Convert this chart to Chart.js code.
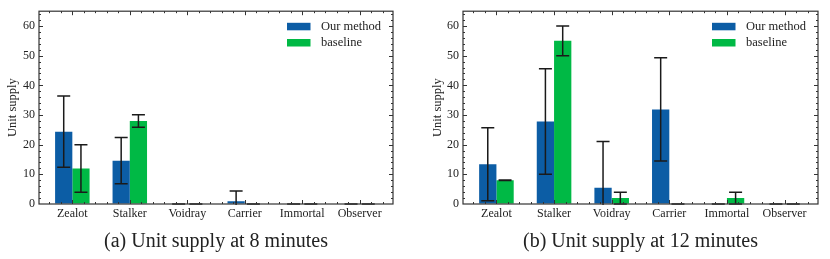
<!DOCTYPE html>
<html>
<head>
<meta charset="utf-8">
<script src="https://cdn.jsdelivr.net/npm/chart.js@4.4.1/dist/chart.umd.min.js"></script>
<style>
  body { margin: 0; background: #fff; }
  #wrap { position: relative; width: 830px; height: 259px; }
  canvas { position: absolute; top: 0; }
  .cap { position: absolute; top: 228px; font: 20px "Liberation Serif", serif; color: #222; text-align: center; line-height: 24px; white-space: nowrap; }
</style>
</head>
<body>
<div id="wrap">
  <canvas id="c8" width="415" height="259" style="left:0"></canvas>
  <canvas id="c12" width="415" height="259" style="left:415px"></canvas>
  <div class="cap" style="left:39px;width:354px">(a) Unit supply at 8 minutes</div>
  <div class="cap" style="left:463px;width:355px">(b) Unit supply at 12 minutes</div>
</div>
<script>
const units = ["Zealot", "Stalker", "Voidray", "Carrier", "Immortal", "Observer"];
const seriesNames = ["Our method", "baseline"];
const colors = ["#0C5DA5", "#00B945"];

// 8 minutes
const ours8 = [24.4, 14.6, 0, 0.9, 0, 0];
const ours8Err = [12, 7.8, 0, 3.5, 0, 0];
const base8 = [12, 28, 0, 0, 0, 0];
const base8Err = [8, 2.1, 0, 0, 0, 0];

// 12 minutes
const ours12 = [13.4, 27.8, 5.5, 31.9, 0, 0];
const ours12Err = [12.3, 17.8, 15.6, 17.4, 0, 0];
const base12 = [8, 55, 2, 0, 2, 0];
const base12Err = [0.1, 5, 2, 0, 2, 0];

const yTicks = [0, 10, 20, 30, 40, 50, 60];

Chart.defaults.font.family = '"Liberation Serif", serif';
Chart.defaults.color = '#222';

// error bars, drawn from each dataset's "errors" array
const errorBars = {
  id: 'errorBars',
  afterDatasetsDraw(chart) {
    const {ctx, chartArea: a, scales: {y}} = chart;
    ctx.save();
    ctx.beginPath();
    ctx.rect(a.left, a.top, a.width, a.height + 1);
    ctx.clip();
    ctx.strokeStyle = '#1a1a1a';
    ctx.lineWidth = 1.5;
    chart.data.datasets.forEach((ds, i) => {
      const meta = chart.getDatasetMeta(i);
      meta.data.forEach((bar, j) => {
        const v = ds.data[j].y, e = ds.errors[j];
        const top = y.getPixelForValue(v + e);
        const bot = y.getPixelForValue(v - e);
        ctx.beginPath();
        ctx.moveTo(bar.x, top); ctx.lineTo(bar.x, bot);
        ctx.moveTo(bar.x - 6.5, top); ctx.lineTo(bar.x + 6.5, top);
        ctx.moveTo(bar.x - 6.5, bot); ctx.lineTo(bar.x + 6.5, bot);
        ctx.stroke();
      });
    });
    ctx.restore();
  }
};

// box with inward ticks on all four sides + legend inside the plot
const frame = {
  id: 'frame',
  afterDraw(chart) {
    const {ctx, chartArea: a, scales: {x, y}} = chart;
    ctx.save();
    ctx.strokeStyle = '#333';
    ctx.lineWidth = 1.2;
    ctx.strokeRect(a.left, a.top, a.width, a.height);
    ctx.lineWidth = 1;
    ctx.beginPath();
    for (let k = -2; k <= 27; k++) {
      const v = k / 5;
      const px = Math.round(x.getPixelForValue(v)) + 0.5;
      const len = k % 5 === 0 ? 4 : 2;
      ctx.moveTo(px, a.bottom); ctx.lineTo(px, a.bottom - len);
      ctx.moveTo(px, a.top); ctx.lineTo(px, a.top + len);
    }
    for (let v = 2; v <= 64; v += 2) {
      const py = Math.round(y.getPixelForValue(v)) + 0.5;
      const len = v % 10 === 0 ? 4 : 2;
      ctx.moveTo(a.left, py); ctx.lineTo(a.left + len, py);
      ctx.moveTo(a.right, py); ctx.lineTo(a.right - len, py);
    }
    ctx.stroke();

    // legend
    ctx.font = '12.5px "Liberation Serif", serif';
    ctx.textBaseline = 'middle';
    chart.data.datasets.forEach((ds, i) => {
      const yc = a.top + 15.3 + i * 16.2;
      ctx.fillStyle = ds.backgroundColor;
      ctx.fillRect(a.right - 106, yc - 3.7, 23.5, 7.5);
      ctx.fillStyle = '#222';
      ctx.fillText(ds.label, a.right - 72, yc);
    });
    ctx.restore();
  }
};

function makeChart(id, oursVals, oursErr, baseVals, baseErr, axisWidth, padRight, titlePad) {
  const toPts = vals => vals.map((v, i) => ({x: i, y: v}));
  return new Chart(document.getElementById(id), {
    type: 'bar',
    data: {
      datasets: [
        { label: seriesNames[0], data: toPts(oursVals), errors: oursErr,
          backgroundColor: colors[0], borderWidth: 0 },
        { label: seriesNames[1], data: toPts(baseVals), errors: baseErr,
          backgroundColor: colors[1], borderWidth: 0 }
      ]
    },
    options: {
      responsive: false,
      animation: false,
      layout: { padding: { left: 0, right: padRight, top: 10, bottom: 35 } },
      datasets: { bar: { categoryPercentage: 0.6, barPercentage: 1 } },
      plugins: { legend: { display: false }, tooltip: { enabled: false } },
      scales: {
        x: {
          type: 'linear', min: -0.58, max: 5.58, offset: false,
          grid: { drawOnChartArea: false, drawTicks: false },
          border: { display: false },
          afterBuildTicks: s => { s.ticks = units.map((u, i) => ({ value: i })); },
          afterFit: s => { s.height = 20; },
          ticks: { padding: 3, font: { size: 12 }, maxRotation: 0, autoSkip: false,
                   callback: v => units[v] }
        },
        y: {
          min: 0, max: 65,
          grid: { drawOnChartArea: false, drawTicks: false },
          border: { display: false },
          afterBuildTicks: s => { s.ticks = yTicks.map(v => ({ value: v })); },
          afterFit: s => { s.width = axisWidth; },
          ticks: { padding: 4, font: { size: 12 } },
          title: { display: true, text: 'Unit supply', font: { size: 12.5 },
                   padding: { top: titlePad, bottom: 0 } }
        }
      }
    },
    plugins: [errorBars, frame]
  });
}

makeChart('c8', ours8, ours8Err, base8, base8Err, 39, 22, 5.5);
makeChart('c12', ours12, ours12Err, base12, base12Err, 48, 12, 15);
</script>
</body>
</html>
